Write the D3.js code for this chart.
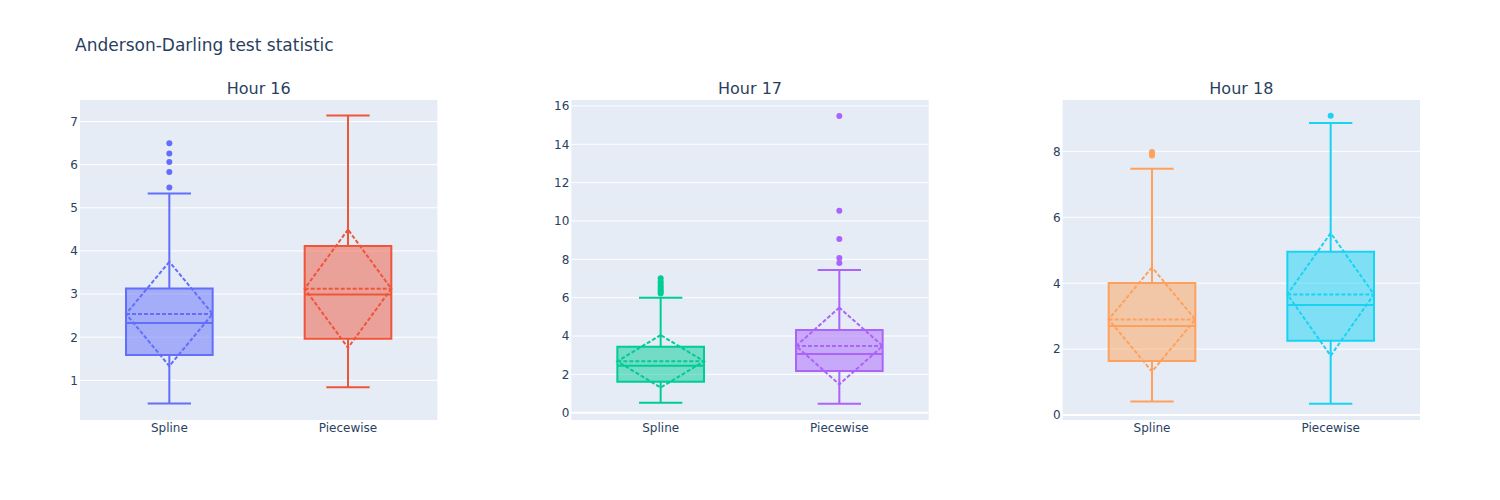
<!DOCTYPE html>
<html>
<head>
<meta charset="utf-8">
<script src="https://cdn.jsdelivr.net/npm/d3@7"></script>
<style>
  body { margin: 0; background: #fff; }
  svg { display: block; font-family: "DejaVu Sans", verdana, arial, sans-serif; }
</style>
</head>
<body>
<div id="chart"></div>
<script>
const chartTitle = 'Anderson-Darling test statistic';
const hours = ['Hour 16', 'Hour 17', 'Hour 18'];
const methods = ['Spline', 'Piecewise'];

// per hour: [Spline, Piecewise]
const lowerFence = [[0.46, 0.84], [0.52, 0.47], [0.41, 0.34]];
const q1Values = [[1.59, 1.965], [1.62, 2.17], [1.64, 2.255]];
const medians = [[2.33, 2.99], [2.45, 3.06], [2.70, 3.34]];
const q3Values = [[3.13, 4.115], [3.44, 4.31], [4.005, 4.95]];
const upperFence = [[5.33, 7.14], [6.0, 7.44], [7.47, 8.86]];
const means = [[2.54, 3.125], [2.68, 3.48], [2.90, 3.66]];
const stdDevs = [[1.21, 1.37], [1.37, 2.0], [1.58, 1.86]];
const outliers = [
  [[6.5, 6.26, 6.06, 5.83, 5.47], []],
  [[7.01, 6.85, 6.72, 6.6, 6.48, 6.38, 6.3, 6.22], [15.48, 10.54, 9.06, 8.07, 7.81]],
  [[7.98, 7.87], [9.08]],
];

const yRanges = [[0.08, 7.5], [-0.38, 16.31], [-0.15, 9.556]];
const yTicks = [[1, 2, 3, 4, 5, 6, 7], [0, 2, 4, 6, 8, 10, 12, 14, 16], [0, 2, 4, 6, 8]];
const colors = [['#636efa', '#EF553B'], ['#00cc96', '#ab63fa'], ['#FFA15A', '#19d3f3']];

const width = 1500;
const height = 500;
const margin = { top: 100, right: 80, bottom: 80, left: 80 };
const spacing = 0.1;
const textColor = '#2a3f5f';
const fontFamily = '"DejaVu Sans", verdana, arial, sans-serif';

const svg = d3.select('#chart')
  .append('svg')
  .attr('width', width)
  .attr('height', height);

const title = svg.append('text')
  .attr('x', 75)
  .attr('y', 51)
  .attr('fill', textColor)
  .style('font-size', '17px')
  .text(chartTitle);

const plotW = width - margin.left - margin.right;
const panelW = plotW * (1 - 2 * spacing) / 3;
const innerH = height - margin.top - margin.bottom;

hours.forEach((hour, i) => {
  const x0 = margin.left + i * (panelW + plotW * spacing);
  const g = svg.append('g').attr('transform', `translate(${x0},${margin.top})`);

  const x = d3.scaleBand().domain(methods).range([0, panelW]).padding(0);
  const y = d3.scaleLinear().domain(yRanges[i]).range([innerH, 0]);

  g.append('rect')
    .attr('width', panelW)
    .attr('height', innerH)
    .attr('fill', '#E5ECF6');

  g.selectAll('line.grid')
    .data(yTicks[i])
    .enter()
    .append('line')
    .attr('class', 'grid')
    .attr('x1', 0)
    .attr('x2', panelW)
    .attr('y1', (d) => y(d))
    .attr('y2', (d) => y(d))
    .attr('stroke', '#fff')
    .attr('stroke-width', (d) => (d === 0 ? 2 : 1));

  const yAxis = d3.axisLeft(y).tickValues(yTicks[i]).tickSize(0).tickPadding(2);
  const ya = g.append('g').call(yAxis);
  ya.select('.domain').remove();
  ya.selectAll('text')
    .attr('fill', textColor)
    .style('font-size', '12px')
    .style('font-family', fontFamily);

  const xAxis = d3.axisBottom(x).tickSize(0).tickPadding(3);
  const xa = g.append('g').attr('transform', `translate(0,${innerH})`).call(xAxis);
  xa.select('.domain').remove();
  xa.selectAll('text')
    .attr('fill', textColor)
    .style('font-size', '12px')
    .style('font-family', fontFamily);

  g.append('text')
    .attr('x', panelW / 2)
    .attr('y', -6)
    .attr('text-anchor', 'middle')
    .attr('fill', textColor)
    .style('font-size', '16px')
    .text(hour);

  const marks = g.append('g');

  methods.forEach((m, j) => {
    const color = colors[i][j];
    const cx = x(m) + x.bandwidth() / 2;
    const half = x.bandwidth() * 0.485 / 2;
    const cap = half / 2;
    const left = cx - half;
    const right = cx + half;

    const p = d3.path();
    p.moveTo(left, y(medians[i][j]));
    p.lineTo(right, y(medians[i][j]));
    p.moveTo(left, y(q3Values[i][j]));
    p.lineTo(right, y(q3Values[i][j]));
    p.lineTo(right, y(q1Values[i][j]));
    p.lineTo(left, y(q1Values[i][j]));
    p.closePath();
    p.moveTo(cx, y(q3Values[i][j]));
    p.lineTo(cx, y(upperFence[i][j]));
    p.moveTo(cx, y(q1Values[i][j]));
    p.lineTo(cx, y(lowerFence[i][j]));
    p.moveTo(cx - cap, y(upperFence[i][j]));
    p.lineTo(cx + cap, y(upperFence[i][j]));
    p.moveTo(cx - cap, y(lowerFence[i][j]));
    p.lineTo(cx + cap, y(lowerFence[i][j]));

    marks.append('path')
      .attr('d', p.toString())
      .attr('fill', color)
      .attr('fill-opacity', 0.5)
      .attr('stroke', color)
      .attr('stroke-width', 2);

    const mu = means[i][j];
    const sd = stdDevs[i][j];
    const mp = d3.path();
    mp.moveTo(cx, y(mu + sd));
    mp.lineTo(left, y(mu));
    mp.lineTo(cx, y(mu - sd));
    mp.lineTo(right, y(mu));
    mp.closePath();
    mp.moveTo(left, y(mu));
    mp.lineTo(right, y(mu));

    marks.append('path')
      .attr('d', mp.toString())
      .attr('fill', 'none')
      .attr('stroke', color)
      .attr('stroke-width', 2)
      .attr('stroke-dasharray', '4,2');

    marks.selectAll(`circle.pt${j}`)
      .data(outliers[i][j])
      .enter()
      .append('circle')
      .attr('class', `pt${j}`)
      .attr('cx', cx)
      .attr('cy', (d) => y(d))
      .attr('r', 3)
      .attr('fill', color);
  });
});
</script>
</body>
</html>
